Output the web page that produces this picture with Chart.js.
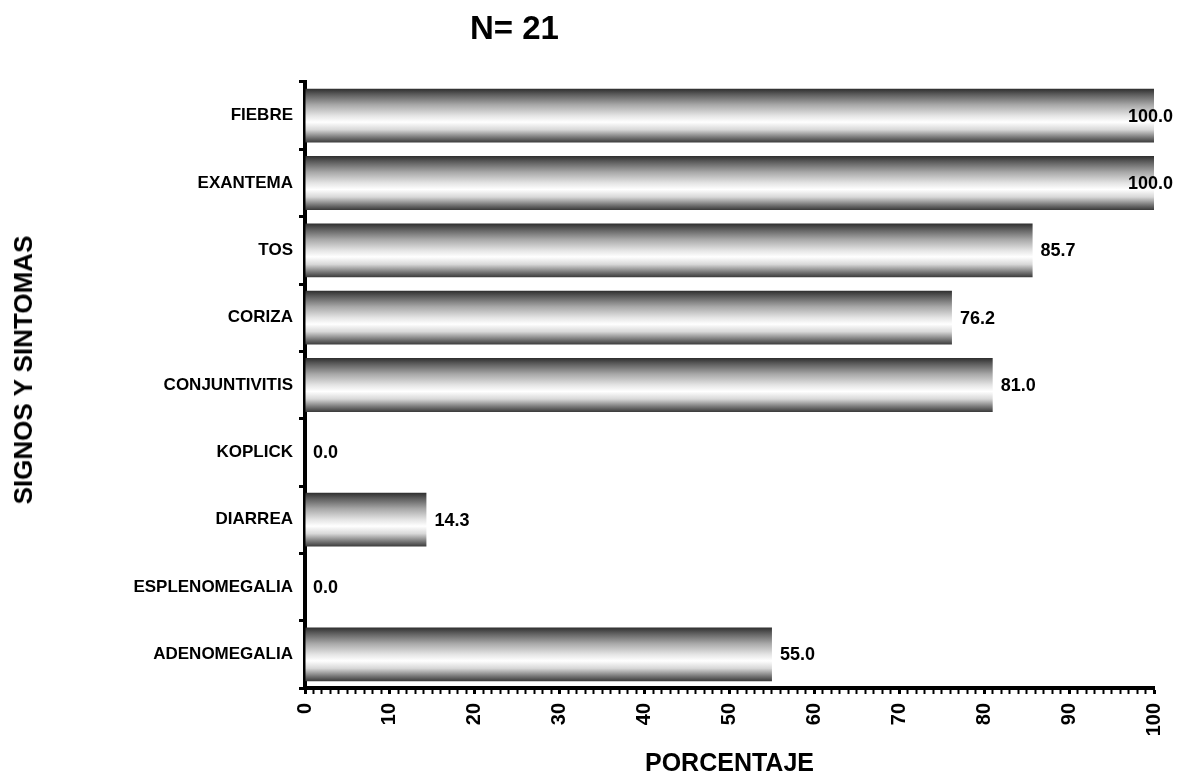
<!DOCTYPE html>
<html lang="es">
<head>
<meta charset="utf-8">
<title>Signos y síntomas</title>
<script src="https://cdn.jsdelivr.net/npm/chart.js@4.4.1/dist/chart.umd.min.js"></script>
<style>
    body { margin: 0; background: #ffffff; }
    #wrap { position: relative; width: 1187px; height: 778px; }
    #titulo {
        position: absolute;
        left: 470px;
        top: 11px;
        font: bold 33px "Liberation Sans", Arial, sans-serif;
        line-height: 1;
        color: #000000;
        white-space: nowrap;
    }
    #tituloY {
        position: absolute;
        left: 23px;
        top: 370px;
        font: bold 26px "Liberation Sans", Arial, sans-serif;
        line-height: 1;
        color: #000000;
        white-space: nowrap;
        transform: translate(-50%, -50%) rotate(-90deg);
    }
    canvas { position: absolute; left: 0; top: 0; }
</style>
</head>
<body>
<div id="wrap">
    <canvas id="sintomasChart" width="1187" height="778"></canvas>
    <div id="titulo">N= 21</div>
    <div id="tituloY"></div>
</div>
<script>
const categorias = [
    "FIEBRE",
    "EXANTEMA",
    "TOS",
    "CORIZA",
    "CONJUNTIVITIS",
    "KOPLICK",
    "DIARREA",
    "ESPLENOMEGALIA",
    "ADENOMEGALIA"
];
const porcentajes = [100.0, 100.0, 85.7, 76.2, 81.0, 0.0, 14.3, 0.0, 55.0];

const ejeMin = 0;
const ejeMax = 100;
const pasoMenor = 1;
const pasoMayor = 10;

const tituloEjeY = "SIGNOS Y SINTOMAS";
const tituloEjeX = "PORCENTAJE";

const FONT = "'Liberation Sans', Arial, sans-serif";
const BAR_PCT = 0.8;

// vertical shading of each bar: dark edges, bright band a bit below the middle
function barGradient(context) {
    const chart = context.chart;
    const yScale = chart.scales && chart.scales.y;
    if (context.dataIndex === undefined || !yScale) return "#999999";

    const center = yScale.getPixelForValue(context.dataIndex);
    const half = (yScale.height / categorias.length) * BAR_PCT / 2;
    if (!isFinite(center) || !isFinite(half) || half <= 0) return "#999999";

    const g = chart.ctx.createLinearGradient(0, center - half, 0, center + half);
    g.addColorStop(0.00, "#2e2e2e");
    g.addColorStop(0.10, "#5a5a5a");
    g.addColorStop(0.30, "#a8a8a8");
    g.addColorStop(0.50, "#e4e4e4");
    g.addColorStop(0.62, "#ffffff");
    g.addColorStop(0.76, "#d8d8d8");
    g.addColorStop(0.90, "#7a7a7a");
    g.addColorStop(1.00, "#3a3a3a");
    return g;
}

// value text to the right of each bar, kept inside the canvas
const valueLabels = {
    id: "valueLabels",
    afterDatasetsDraw(chart) {
        const ctx = chart.ctx;
        const meta = chart.getDatasetMeta(0);
        ctx.save();
        ctx.font = `bold 18px ${FONT}`;
        ctx.fillStyle = "#000000";
        ctx.textBaseline = "middle";
        ctx.textAlign = "left";
        meta.data.forEach((bar, i) => {
            const text = porcentajes[i].toFixed(1);
            const w = ctx.measureText(text).width;
            let x = bar.x + 8;
            if (x + w > chart.width - 14) x = chart.width - 14 - w;
            ctx.fillText(text, x, bar.y + 1);
        });
        ctx.restore();
    }
};

function buildChart() {
    const ctx = document.getElementById("sintomasChart").getContext("2d");
    return new Chart(ctx, {
        type: "bar",
        data: {
            labels: categorias,
            datasets: [
                {
                    label: tituloEjeX,
                    data: porcentajes,
                    backgroundColor: barGradient,
                    borderWidth: 0,
                    barPercentage: BAR_PCT,
                    categoryPercentage: 1.0
                }
            ]
        },
        options: {
            indexAxis: "y",
            responsive: false,
            animation: false,
            layout: {
                padding: { left: 0, right: 26, top: 82, bottom: 0 }
            },
            plugins: {
                legend: { display: false },
                tooltip: { enabled: false }
            },
            scales: {
                x: {
                    type: "linear",
                    min: ejeMin,
                    max: ejeMax,
                    z: 1,
                    afterFit: scale => { scale.height = 90; },
                    border: { display: true, color: "#000000", width: 4 },
                    grid: {
                        drawOnChartArea: false,
                        tickLength: 6,
                        tickColor: "#000000",
                        tickWidth: c => (c.tick && c.tick.value % pasoMayor === 0 ? 3 : 2)
                    },
                    ticks: {
                        stepSize: pasoMenor,
                        autoSkip: false,
                        maxTicksLimit: 500,
                        minRotation: 90,
                        maxRotation: 90,
                        padding: 9,
                        color: "#000000",
                        font: { family: FONT, size: 20, weight: "bold" },
                        callback: v => (v % pasoMayor === 0 ? String(v) : "")
                    },
                    title: {
                        display: true,
                        text: tituloEjeX,
                        color: "#000000",
                        font: { family: FONT, size: 25, weight: "bold", lineHeight: 1 },
                        padding: { top: 0, bottom: 1 }
                    }
                },
                y: {
                    type: "category",
                    z: 1,
                    afterFit: scale => { scale.width = 305; },
                    border: { display: true, color: "#000000", width: 4 },
                    grid: {
                        drawOnChartArea: false,
                        offset: true,
                        tickLength: 6,
                        tickWidth: 3,
                        tickColor: "#000000"
                    },
                    ticks: {
                        padding: 6,
                        color: "#000000",
                        font: { family: FONT, size: 17, weight: "bold" }
                    }
                }
            }
        },
        plugins: [valueLabels]
    });
}

window.addEventListener("DOMContentLoaded", () => {
    document.getElementById("tituloY").textContent = tituloEjeY;
    buildChart();
});
</script>
</body>
</html>
